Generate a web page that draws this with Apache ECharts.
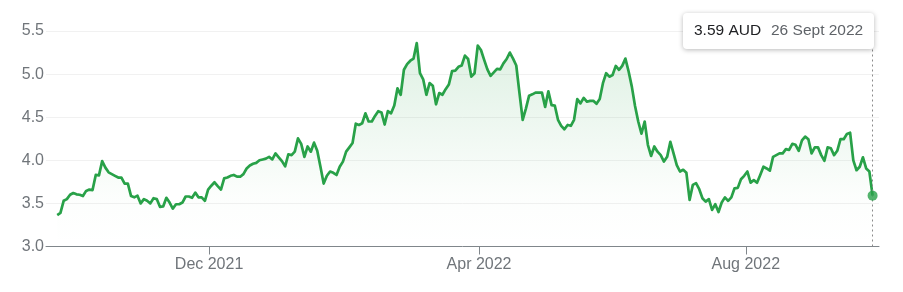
<!DOCTYPE html>
<html><head><meta charset="utf-8">
<script src="https://cdn.jsdelivr.net/npm/echarts@6/dist/echarts.min.js"></script>
<style>html,body{margin:0;padding:0;background:#fff}#c{width:903px;height:292px}</style>
</head><body><div id="c"></div>
<script>
// Daily closing prices (AUD), one per trading day, ~27 Sep 2021 .. 26 Sep 2022
const prices = [
  3.365, 3.39, 3.53, 3.55, 3.60, 3.62, 3.605, 3.60, 3.585, 3.645,
  3.66, 3.655, 3.83, 3.825, 3.99, 3.915, 3.86, 3.84, 3.82, 3.80,
  3.80, 3.73, 3.73, 3.585, 3.57, 3.59, 3.50, 3.55, 3.53, 3.50,
  3.56, 3.55, 3.46, 3.465, 3.565, 3.51, 3.44, 3.49, 3.49, 3.51,
  3.58, 3.58, 3.565, 3.625, 3.57, 3.57, 3.53, 3.66, 3.705, 3.745,
  3.70, 3.66, 3.79, 3.80, 3.82, 3.83, 3.81, 3.81, 3.84, 3.905,
  3.94, 3.96, 3.97, 4.00, 4.01, 4.02, 4.04, 4.01, 4.08, 4.035,
  3.99, 3.93, 4.07, 4.06, 4.10, 4.255, 4.19, 4.04, 4.16, 4.10,
  4.205, 4.11, 3.925, 3.73, 3.82, 3.87, 3.855, 3.83, 3.925, 3.985,
  4.10, 4.15, 4.20, 4.425, 4.41, 4.43, 4.545, 4.45, 4.45,
  4.515, 4.57, 4.555, 4.415, 4.57, 4.545, 4.635, 4.835, 4.76, 5.05,
  5.115, 5.155, 5.18, 5.36, 5.01, 4.94, 4.76, 4.895, 4.865, 4.65,
  4.78, 4.76, 4.825, 4.88, 5.035, 5.04, 5.085, 5.10, 5.215, 5.175,
  4.97, 5.01, 5.33, 5.28, 5.165, 5.055, 4.98, 5.02, 5.06, 5.055,
  5.125, 5.175, 5.25, 5.18, 5.10, 4.78, 4.47, 4.60, 4.75, 4.765,
  4.785, 4.785, 4.785, 4.62, 4.80, 4.64, 4.635, 4.47, 4.40, 4.36,
  4.41, 4.40, 4.47, 4.71, 4.66, 4.725, 4.68, 4.69, 4.69, 4.655,
  4.71, 4.895, 5.01, 4.97, 4.99, 5.095, 5.05, 5.095, 5.18, 5.03,
  4.855, 4.63, 4.45, 4.31, 4.45, 4.18, 4.05, 4.16, 4.10, 4.06,
  3.985, 4.04, 4.215, 4.08, 3.945, 3.87, 3.89, 3.855, 3.54, 3.715,
  3.735, 3.665, 3.56,
  3.52, 3.55, 3.425, 3.49, 3.40, 3.51, 3.57, 3.53, 3.57, 3.675,
  3.68, 3.78, 3.82, 3.87, 3.74, 3.77, 3.74, 3.83, 3.925, 3.905,
  3.88, 4.04, 4.06, 4.08, 4.08, 4.13, 4.12, 4.19, 4.18, 4.11,
  4.23, 4.275, 4.245, 4.08, 4.15, 4.15, 4.06, 3.995, 4.15, 4.14,
  4.06, 4.11, 4.245, 4.245, 4.305, 4.32, 4.00, 3.885, 3.925, 4.035,
  3.905, 3.87, 3.59
];
// Month boundaries, in trading-day index units
const monthTickIdx = [47.3, 131.4, 214.5];
const monthTickLabels = ['Dec 2021', 'Apr 2022', 'Aug 2022'];
const yMin = 3, yMax = 5.5, yStep = 0.5;
const currency = 'AUD';
const lastDate = '26 Sept 2022';

const lineColor = '#28a148';
const lastIdx = prices.length - 1;
const lastVal = prices[lastIdx];
const seriesData = prices.map((v, i) => [i, v]);
const FONT = 'Arial, "Liberation Sans", sans-serif';

const chart = echarts.init(document.getElementById('c'), null, {renderer: 'canvas'});
chart.setOption({
  animation: false,
  backgroundColor: '#fff',
  textStyle: {fontFamily: FONT},
  grid: {left: 46, right: 24, top: 31, bottom: 45.5},
  xAxis: {
    type: 'value',
    min: -3.5,
    max: 256,
    axisLine: {show: true, lineStyle: {color: '#80868b', width: 1}},
    axisTick: {show: true, length: 8, lineStyle: {color: '#80868b'}, customValues: monthTickIdx},
    axisLabel: {
      customValues: monthTickIdx,
      color: '#70757a', fontSize: 16, margin: 10,
      formatter: v => {
        const i = monthTickIdx.findIndex(t => Math.abs(t - v) < 1e-6);
        return i >= 0 ? monthTickLabels[i] : '';
      }
    },
    splitLine: {show: false}
  },
  yAxis: {
    type: 'value',
    min: yMin, max: yMax, interval: yStep,
    axisLine: {show: false},
    axisTick: {show: false},
    axisLabel: {color: '#70757a', fontSize: 16, margin: 2, formatter: v => v.toFixed(1)},
    splitLine: {lineStyle: {color: '#f1f1f1', width: 1}}
  },
  series: [
    {
      type: 'line',
      data: seriesData,
      showSymbol: false,
      symbol: 'none',
      lineStyle: {color: lineColor, width: 2.7, join: 'round'},
      areaStyle: {
        color: new echarts.graphic.LinearGradient(0, 0, 0, 1, [
          {offset: 0, color: 'rgba(40,161,72,0.22)'},
          {offset: 0.75, color: 'rgba(40,161,72,0.02)'},
          {offset: 1, color: 'rgba(40,161,72,0)'}
        ])
      },
      markLine: {
        silent: true,
        symbol: 'none',
        label: {show: false},
        lineStyle: {color: '#8a8a8a', type: [2, 3], width: 1},
        data: [{xAxis: lastIdx}]
      },
      z: 2
    },
    {
      type: 'scatter',
      data: [[lastIdx, lastVal]],
      symbol: 'circle',
      symbolSize: 10,
      itemStyle: {color: lineColor},
      z: 5
    }
  ],
  graphic: [{
    type: 'group',
    left: 683,
    top: 13,
    zlevel: 1,
    z: 100,
    children: [
      {
        type: 'rect',
        z: 100,
        shape: {x: 0, y: 0, width: 191, height: 36, r: 4},
        style: {fill: '#fff', shadowBlur: 5, shadowOffsetY: 1, shadowColor: 'rgba(0,0,0,0.28)'}
      },
      {
        type: 'text',
        z: 101,
        style: {
          x: 11, y: 18, text: lastVal.toFixed(2) + ' ' + currency,
          fill: '#202124', fontSize: 15.5, fontFamily: FONT,
          verticalAlign: 'middle', align: 'left'
        }
      },
      {
        type: 'text',
        z: 101,
        style: {
          x: 88, y: 18, text: lastDate,
          fill: '#5f6368', fontSize: 15.5, fontFamily: FONT,
          verticalAlign: 'middle', align: 'left'
        }
      }
    ]
  }]
});
</script>
</body></html>
